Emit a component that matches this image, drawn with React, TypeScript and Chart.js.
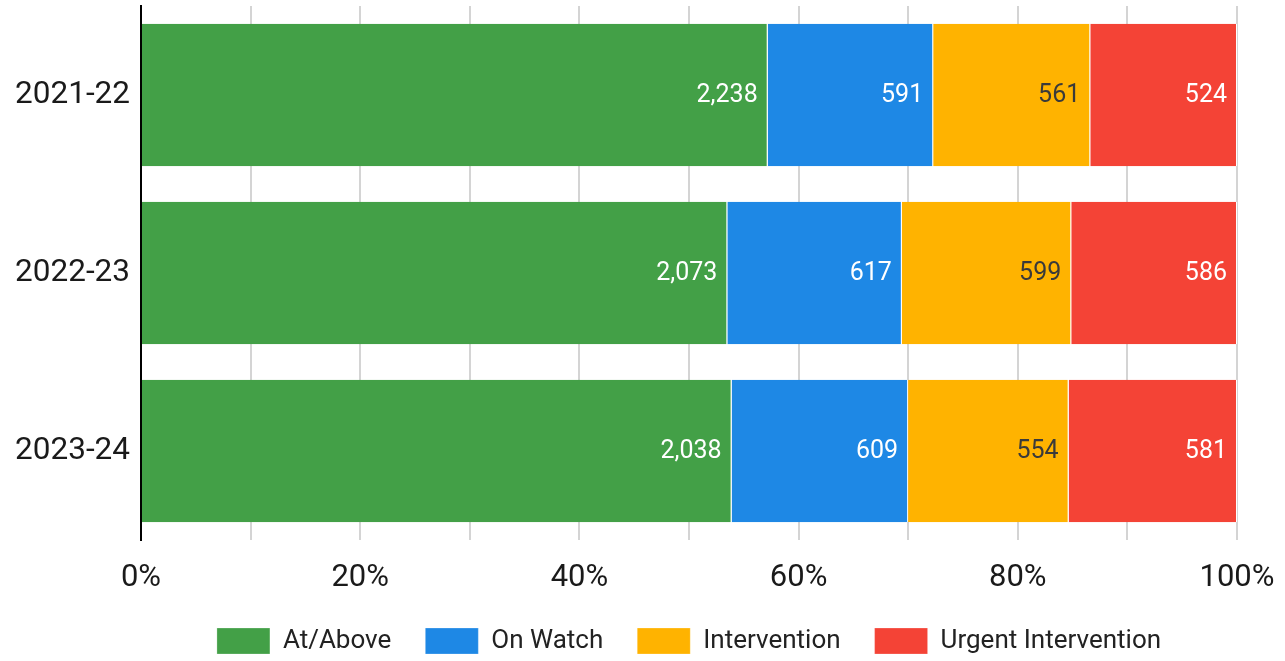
import React, { useEffect, useRef } from "react";
import { Chart, registerables } from "chart.js";

Chart.register(...registerables);

const categories = ["2021-22", "2022-23", "2023-24"];
const seriesNames = ["At/Above", "On Watch", "Intervention", "Urgent Intervention"];
const atAbove = [2238, 2073, 2038];
const onWatch = [591, 617, 609];
const intervention = [561, 599, 554];
const urgent = [524, 586, 581];
const labelledTicks = [0, 20, 40, 60, 80, 100];

const seriesColors = ["#43a047", "#1e88e5", "#ffb300", "#f44336"];
const valueLabelColors = ["#ffffff", "#ffffff", "#3a3a3a", "#ffffff"];

const seriesCounts = [atAbove, onWatch, intervention, urgent];
const totals = categories.map((_, i) => seriesCounts.reduce((s, arr) => s + arr[i], 0));

const valueLabels = {
  id: "valueLabels",
  afterDatasetsDraw(chart: any) {
    const ctx = chart.ctx;
    ctx.save();
    ctx.font = "25px Roboto";
    ctx.textAlign = "right";
    ctx.textBaseline = "middle";
    chart.data.datasets.forEach((_ds: any, di: number) => {
      const meta = chart.getDatasetMeta(di);
      meta.data.forEach((el: any, i: number) => {
        const count = seriesCounts[di][i];
        ctx.fillStyle = valueLabelColors[di];
        ctx.fillText(count.toLocaleString("en-US"), el.x - 10, el.y + 1);
      });
    });
    ctx.restore();
  },
};

// centre the legend under the plot area rather than the whole canvas
const legendUnderPlot = {
  id: "legendUnderPlot",
  afterLayout(chart: any) {
    const lg = chart.legend;
    if (lg) {
      lg.left = chart.chartArea.left;
      lg.right = chart.chartArea.right;
    }
  },
};

export default function App() {
  const canvasRef = useRef<HTMLCanvasElement | null>(null);

  useEffect(() => {
    if (!canvasRef.current) return;
    Chart.defaults.font.family = "Roboto";
    const chart = new Chart(canvasRef.current, {
      type: "bar",
      data: {
        labels: categories,
        datasets: seriesNames.map((name, di) => ({
          label: name,
          data: seriesCounts[di].map((v, i) => (v / totals[i]) * 100),
          backgroundColor: seriesColors[di],
          borderColor: "#ffffff",
          borderWidth: { top: 0, bottom: 0, left: 0, right: 1 },
          borderSkipped: false,
          barPercentage: 0.8,
          categoryPercentage: 1.0,
        })),
      },
      options: {
        indexAxis: "y",
        animation: false,
        responsive: true,
        maintainAspectRatio: false,
        layout: { padding: { top: 6, right: 48, bottom: -3, left: 0 } },
        plugins: {
          tooltip: { enabled: false },
          legend: {
            position: "bottom",
            labels: {
              boxWidth: 53,
              boxHeight: 26,
              padding: 34,
              color: "#222222",
              font: { size: 26, family: "Roboto" },
            },
          },
        },
        scales: {
          x: {
            type: "linear",
            stacked: true,
            min: 0,
            max: 100,
            grid: { color: "#d4d4d4", lineWidth: 2, drawTicks: false },
            border: { display: false },
            ticks: {
              stepSize: 10,
              autoSkip: false,
              maxRotation: 0,
              padding: 20,
              color: "#1a1a1a",
              font: { size: 31, family: "Roboto" },
              callback: (v: any) => (labelledTicks.includes(Number(v)) ? `${v}%` : ""),
            },
            afterFit: (scale: any) => {
              scale.height = 54;
              scale.paddingLeft = 0;
              scale.paddingRight = 0;
            },
          },
          y: {
            stacked: true,
            grid: { display: false, drawTicks: false },
            border: { display: true, color: "#000000", width: 2 },
            ticks: {
              padding: 11,
              color: "#1a1a1a",
              font: { size: 31.5, family: "Roboto" },
            },
            afterFit: (scale: any) => {
              scale.width = 141;
              scale.paddingTop = 0;
              scale.paddingBottom = 0;
            },
          },
        },
      },
      plugins: [valueLabels, legendUnderPlot],
    });
    return () => chart.destroy();
  }, []);

  return (
    <div style={{ position: "fixed", left: 0, top: 0, width: 1285, height: 661, background: "#ffffff" }}>
      <canvas ref={canvasRef} />
    </div>
  );
}
